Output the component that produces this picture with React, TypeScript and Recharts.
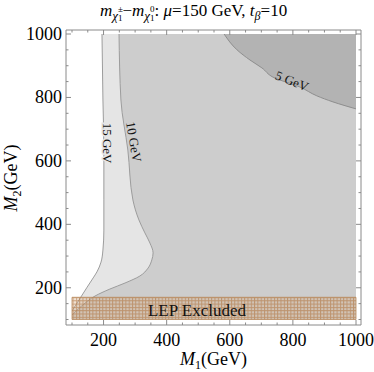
import React from 'react';
import {
  ComposedChart,
  Area,
  Line,
  XAxis,
  YAxis,
  ReferenceArea,
  ReferenceDot,
} from 'recharts';

// contours: M2 from top to bottom, with the M1 where the line sits
const m2Contour15 = [1000, 792, 634, 477, 382, 319, 281, 250, 231, 202, 177, 152, 127];
const m1Contour15 = [195, 198, 201, 201, 201, 198, 192, 179, 167, 148, 132, 116, 100];

const m2Contour10 = [1000, 792, 634, 477, 414, 373, 341, 310, 288, 262, 237, 215, 196, 174, 149, 120, 114];
const m1Contour10 = [249, 255, 277, 293, 312, 331, 347, 357, 353, 341, 315, 268, 220, 173, 138, 106, 100];

const m2Contour5 = [1000, 950, 918, 893, 864, 833, 805, 786, 764];
const m1Contour5 = [582, 623, 664, 702, 737, 822, 876, 927, 1000];

const contourLabels = ['15 GeV', '10 GeV', '5 GeV'];
const labelM1 = [214, 296, 797];
const labelM2 = [656, 660, 852];

const lepM1 = [100, 1000];
const lepM2 = [100, 170];

const axisTicks = [100, 150, 200, 250, 300, 350, 400, 450, 500, 550, 600, 650, 700, 750, 800, 850, 900, 950, 1000];
const majorTicks = [200, 400, 600, 800, 1000];

type Row = { m2: number; c15?: number; c10?: number; c5?: number };

const byM2 = new Map<number, Row>();
function addContour(key: 'c15' | 'c10' | 'c5', m2s: number[], m1s: number[]) {
  m2s.forEach((m2, i) => {
    const r = byM2.get(m2) ?? { m2 };
    r[key] = m1s[i];
    byM2.set(m2, r);
  });
}
addContour('c15', m2Contour15, m1Contour15);
addContour('c10', m2Contour10, m1Contour10);
addContour('c5', m2Contour5, m1Contour5);
const rows = [...byM2.values()].sort((a, b) => b.m2 - a.m2);

const FONT = '"Liberation Serif", "Times New Roman", serif';
const FRAME = '#8a8a8a';
const LIGHT = '#e5e5e5';
const MID = '#cdcdcd';
const DARK = '#b3b3b3';
const CONTOUR = '#9c9c9c';

type Side = 'bottom' | 'left' | 'top' | 'right';

function frameTick(side: Side) {
  return (props: any) => {
    const { x, y, payload } = props;
    const v = payload.value as number;
    const major = majorTicks.includes(v);
    const len = major ? 5 : 2.5;
    let line;
    if (side === 'bottom') line = <line x1={x} y1={y} x2={x} y2={y - len} />;
    else if (side === 'top') line = <line x1={x} y1={y} x2={x} y2={y + len} />;
    else if (side === 'left') line = <line x1={x} y1={y} x2={x + len} y2={y} />;
    else line = <line x1={x} y1={y} x2={x - len} y2={y} />;
    return (
      <g>
        <g stroke={FRAME} strokeWidth={1}>{line}</g>
        {major && side === 'bottom' && (
          <text x={x} y={y + 20.5} textAnchor="middle" fontFamily={FONT} fontSize={18} fill="#000">
            {v}
          </text>
        )}
        {major && side === 'left' && (
          <text x={x - 4} y={y + 6} textAnchor="end" fontFamily={FONT} fontSize={18} fill="#000">
            {v}
          </text>
        )}
      </g>
    );
  };
}

const labelAngles = [90, 80, 22];
const labelHalo = [LIGHT, MID, 'none'];

export default function App() {
  return (
    <div style={{ position: 'absolute', left: 0, top: 0, width: 374, height: 372, background: '#fff' }}>
      <ComposedChart
        width={374}
        height={372}
        data={rows}
        layout="vertical"
        margin={{ top: 0, right: 0, bottom: 0, left: 0 }}
      >
        <defs>
          <pattern id="lepMesh" width={3.3} height={3.3} patternUnits="userSpaceOnUse">
            <rect width={3.3} height={3.3} fill="#d8b08a" fillOpacity={0.35} />
            <path d="M0 0.5H3.3M0.5 0V3.3" stroke="#b0733f" strokeOpacity={0.6} strokeWidth={1} fill="none" />
          </pattern>
        </defs>
        <XAxis
          type="number"
          domain={[100, 1000]}
          allowDataOverflow
          ticks={axisTicks}
          interval={0}
          tickSize={0}
          tickMargin={0}
          tickLine={false}
          tick={frameTick('bottom')}
          axisLine={{ stroke: FRAME }}
          height={47}
          padding={{ left: 6, right: 5 }}
        />
        <XAxis
          xAxisId="top"
          orientation="top"
          type="number"
          domain={[100, 1000]}
          allowDataOverflow
          ticks={axisTicks}
          interval={0}
          tickSize={0}
          tickMargin={0}
          tickLine={false}
          tick={frameTick('top')}
          axisLine={{ stroke: FRAME }}
          height={30}
          padding={{ left: 6, right: 5 }}
        />
        <YAxis
          type="number"
          dataKey="m2"
          domain={[100, 1000]}
          allowDataOverflow
          reversed
          ticks={axisTicks}
          interval={0}
          tickSize={0}
          tickMargin={0}
          tickLine={false}
          tick={frameTick('left')}
          axisLine={{ stroke: FRAME }}
          width={66}
          padding={{ top: 4, bottom: 5.5 }}
        />
        <YAxis
          yAxisId="right"
          orientation="right"
          type="number"
          dataKey="m2"
          domain={[100, 1000]}
          allowDataOverflow
          reversed
          ticks={axisTicks}
          interval={0}
          tickSize={0}
          tickMargin={0}
          tickLine={false}
          tick={frameTick('right')}
          axisLine={{ stroke: FRAME }}
          width={13}
          padding={{ top: 4, bottom: 5.5 }}
        />

        <ReferenceArea x1={100} x2={1000} y1={100} y2={1000} fill={MID} fillOpacity={1} stroke="none" zIndex={0} />

        <Area
          dataKey={(d: Row) => (d.c5 != null ? [d.c5, 1000] : [null, null])}
          type="monotone"
          fill={DARK}
          fillOpacity={1}
          stroke="none"
          connectNulls
          isAnimationActive={false}
        />
        <Area dataKey="c10" type="monotone" fill={LIGHT} fillOpacity={1} stroke="none" connectNulls isAnimationActive={false} />
        <Area dataKey="c15" type="monotone" fill="#ffffff" fillOpacity={1} stroke="none" connectNulls isAnimationActive={false} />

        <Line dataKey="c15" type="monotone" stroke={CONTOUR} strokeWidth={1} dot={false} connectNulls isAnimationActive={false} />
        <Line dataKey="c10" type="monotone" stroke={CONTOUR} strokeWidth={1} dot={false} connectNulls isAnimationActive={false} />
        <Line dataKey="c5" type="monotone" stroke="#8e8e8e" strokeWidth={1} dot={false} connectNulls isAnimationActive={false} />

        <ReferenceArea
          x1={lepM1[0]}
          x2={lepM1[1]}
          y1={lepM2[0]}
          y2={lepM2[1]}
          fill="url(#lepMesh)"
          fillOpacity={1}
          stroke="#b98a5e"
          strokeWidth={0.8}
          zIndex={450}
        />

        {contourLabels.map((t, i) => (
          <ReferenceDot
            key={t}
            x={labelM1[i]}
            y={labelM2[i]}
            r={0}
            ifOverflow="visible"
            zIndex={460}
            shape={(p: any) => (
              <text
                x={p.cx}
                y={p.cy}
                transform={`rotate(${labelAngles[i]} ${p.cx} ${p.cy})`}
                textAnchor="middle"
                dominantBaseline="central"
                fontFamily={FONT}
                fontSize={13}
                fill="#111"
                stroke={labelHalo[i]}
                strokeWidth={3}
                paintOrder="stroke"
              >
                {t}
              </text>
            )}
          />
        ))}
        <ReferenceDot
          x={496}
          y={127}
          r={0}
          ifOverflow="visible"
          zIndex={460}
          shape={(p: any) => (
            <text x={p.cx} y={p.cy} textAnchor="middle" dominantBaseline="central" fontFamily={FONT} fontSize={17} fill="#111">
              LEP Excluded
            </text>
          )}
        />
      </ComposedChart>

      <svg width={374} height={372} style={{ position: 'absolute', left: 0, top: 0, pointerEvents: 'none' }}>
        <text x={100} y={16} fontFamily={FONT} fontSize={17} fill="#000">
          <tspan fontStyle="italic">m</tspan>
          <tspan fontStyle="italic" fontSize={13} dy={4}>χ</tspan>
          <tspan fontSize={9} dy={-8}>±</tspan>
          <tspan fontSize={9} dx={-5} dy={9}>1</tspan>
          <tspan dy={-5}>−</tspan>
          <tspan fontStyle="italic">m</tspan>
          <tspan fontStyle="italic" fontSize={13} dy={4}>χ</tspan>
          <tspan fontSize={9} dy={-8}>0</tspan>
          <tspan fontSize={9} dx={-4.5} dy={9}>1</tspan>
          <tspan dy={-5}>: </tspan>
          <tspan fontStyle="italic">μ</tspan>
          <tspan>=150 GeV, </tspan>
          <tspan fontStyle="italic">t</tspan>
          <tspan fontStyle="italic" fontSize={12} dy={4}>β</tspan>
          <tspan dy={-4}>=10</tspan>
        </text>
        <text x={213.5} y={365} textAnchor="middle" fontFamily={FONT} fontSize={18} fill="#000">
          <tspan fontStyle="italic">M</tspan>
          <tspan fontSize={12} dy={4}>1</tspan>
          <tspan dy={-4}>(GeV)</tspan>
        </text>
        <text
          x={17}
          y={178}
          transform="rotate(-90 17 178)"
          textAnchor="middle"
          fontFamily={FONT}
          fontSize={18}
          fill="#000"
        >
          <tspan fontStyle="italic">M</tspan>
          <tspan fontSize={12} dy={4}>2</tspan>
          <tspan dy={-4}>(GeV)</tspan>
        </text>
      </svg>
    </div>
  );
}
